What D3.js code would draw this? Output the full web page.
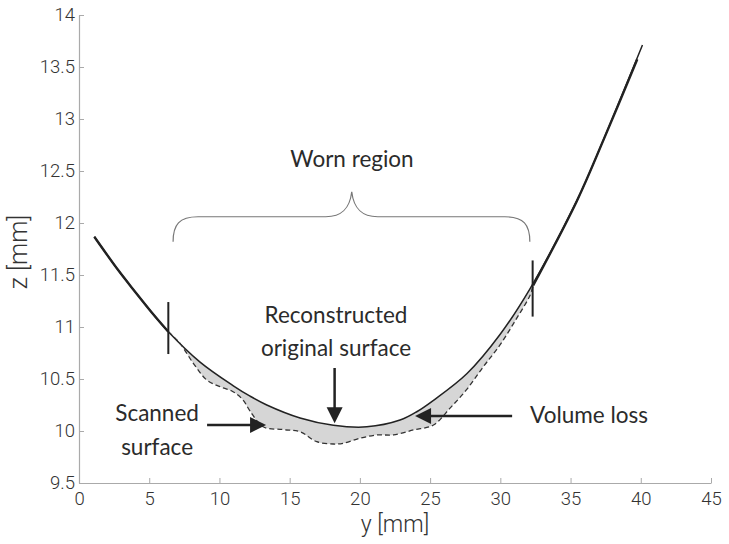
<!DOCTYPE html>
<html>
<head>
<meta charset="utf-8">
<script src="https://cdn.jsdelivr.net/npm/d3@7"></script>
<style>
  html, body { margin: 0; padding: 0; background: #fff; }
  svg { display: block; }
</style>
</head>
<body>
<svg id="chart" width="729" height="544"></svg>
<script>
// ---- Data ----
const xTicks = [0, 5, 10, 15, 20, 25, 30, 35, 40, 45];
const yTicks = [9.5, 10, 10.5, 11, 11.5, 12, 12.5, 13, 13.5, 14];
const xTickLabels = ["0", "5", "10", "15", "20", "25", "30", "35", "40", "45"];
const yTickLabels = ["9.5", "10", "10.5", "11", "11.5", "12", "12.5", "13", "13.5", "14"];

// Reconstructed original surface [y, z]
const originalY = [1.09, 2.80, 3.99, 5.18, 6.36, 8.62, 10.99, 12.18, 13.37, 15.74, 18.11, 20.49, 22.86, 24.05, 25.24, 27.61, 29.99, 32.12, 35.45, 37.34, 40.12];
const originalZ = [11.868, 11.545, 11.34, 11.14, 10.955, 10.663, 10.435, 10.335, 10.25, 10.125, 10.055, 10.04, 10.105, 10.185, 10.295, 10.55, 10.93, 11.37, 12.215, 12.80, 13.712];

// Scanned surface inside worn region [y, z]
const scannedY = [6.36, 7.19, 8.14, 9.10, 10.04, 10.97, 11.68, 12.18, 13.11, 14.53, 15.74, 16.93, 18.11, 18.82, 20.01, 21.20, 22.39, 23.81, 25.24, 26.42, 27.61, 28.80, 29.99, 31.17, 32.12, 32.34];
const scannedZ = [10.955, 10.843, 10.651, 10.490, 10.426, 10.378, 10.298, 10.192, 10.041, 10.014, 9.993, 9.897, 9.875, 9.882, 9.930, 9.962, 9.962, 10.010, 10.058, 10.22, 10.40, 10.62, 10.83, 11.085, 11.305, 11.40];

// Scanned surface outside worn region (coincides with original)
const scannedLeftY = [1.09, 2.80, 3.99, 5.18, 6.36];
const scannedLeftZ = [11.868, 11.545, 11.34, 11.14, 10.955];
const scannedRightY = [32.34, 35.45, 37.34, 39.75];
const scannedRightZ = [11.40, 12.212, 12.797, 13.575];

// Worn region limits
const wornLimits = [6.36, 32.3];
const wornLimitZLow = [10.74, 11.10];
const wornLimitZHigh = [11.24, 11.64];

// ---- Layout ----
const svg = d3.select("#chart");
const x = d3.scaleLinear().domain([0, 45]).range([79, 711]);
const y = d3.scaleLinear().domain([9.5, 14]).range([483, 15]);

const zip = (a, b) => a.map((v, i) => [v, b[i]]);
const original = zip(originalY, originalZ);
const scanned = zip(scannedY, scannedZ);
const scannedLeft = zip(scannedLeftY, scannedLeftZ);
const scannedRight = zip(scannedRightY, scannedRightZ);

const line = d3.line().x(d => x(d[0])).y(d => y(d[1])).curve(d3.curveCatmullRom.alpha(0.5));

// Axes
const tickFont = "Roboto, 'DejaVu Sans', sans-serif";
const xAxis = d3.axisBottom(x).tickValues(xTicks).tickFormat((d, i) => xTickLabels[i])
  .tickSizeInner(-5).tickSizeOuter(0).tickPadding(9);
const yAxis = d3.axisLeft(y).tickValues(yTicks).tickFormat((d, i) => yTickLabels[i])
  .tickSizeInner(-5).tickSizeOuter(0).tickPadding(4);

const gx = svg.append("g").attr("transform", `translate(0,${y(9.5)})`).call(xAxis);
const gy = svg.append("g").attr("transform", `translate(${x(0)},0)`).call(yAxis);
[gx, gy].forEach(g => {
  g.select(".domain").attr("stroke", "#aaa").attr("stroke-width", 1.2);
  g.selectAll(".tick line").attr("stroke", "#aaa").attr("stroke-width", 1);
  g.selectAll(".tick text").attr("fill", "#333").attr("font-size", 18.5)
    .attr("font-family", tickFont).attr("font-weight", 300);
});

// Axis titles
svg.append("text").attr("x", 395).attr("y", 532).attr("text-anchor", "middle")
  .attr("font-family", tickFont).attr("font-weight", 300).attr("font-size", 23).attr("fill", "#333")
  .text("y [mm]");
svg.append("text").attr("transform", "translate(27,252) rotate(-90)").attr("text-anchor", "middle")
  .attr("font-family", tickFont).attr("font-weight", 300).attr("font-size", 25).attr("fill", "#333")
  .text("z [mm]");

// Volume loss fill: bounded by original (forward) and scanned (backward)
const origWorn = original.filter(d => d[0] >= wornLimits[0] - 0.01 && d[0] <= 32.2);
origWorn.push([32.34, 11.40]);
const upper = line(origWorn);
const lower = line(scanned.slice().reverse()).replace(/^M/, "L");
svg.append("path").attr("d", upper + lower + "Z")
  .attr("fill", "#d6d6d6").attr("stroke", "none");

// Original surface
svg.append("path").attr("d", line(original)).attr("fill", "none")
  .attr("stroke", "#222").attr("stroke-width", 1.5);

// Scanned surface
svg.append("path").attr("d", line(scanned)).attr("fill", "none")
  .attr("stroke", "#333").attr("stroke-width", 1.3).attr("stroke-dasharray", "5,3");
[scannedLeft, scannedRight].forEach(s => {
  svg.append("path").attr("d", line(s)).attr("fill", "none")
    .attr("stroke", "#222").attr("stroke-width", 2.4);
});

// Worn region limit marks
wornLimits.forEach((v, i) => {
  svg.append("line").attr("x1", x(v)).attr("x2", x(v))
    .attr("y1", y(wornLimitZLow[i])).attr("y2", y(wornLimitZHigh[i]))
    .attr("stroke", "#222").attr("stroke-width", 2);
});

// Brace
(function () {
  const l = x(6.7), r = x(32.1), c = x(19.42);
  const tip = y(11.82), top = y(12.06), peak = y(12.30);
  const p = d3.path();
  p.moveTo(l, tip);
  p.bezierCurveTo(l, top + 8, l + 6, top, l + 25, top);
  p.lineTo(c - 26, top);
  p.bezierCurveTo(c - 10, top, c - 2, top - 8, c, peak);
  p.bezierCurveTo(c + 2, top - 8, c + 10, top, c + 26, top);
  p.lineTo(r - 25, top);
  p.bezierCurveTo(r - 6, top, r, top + 8, r, tip);
  svg.append("path").attr("d", p.toString()).attr("fill", "none")
    .attr("stroke", "#777").attr("stroke-width", 1.2);
})();

// Arrows
function arrow(x1, y1, x2, y2) {
  const dx = x2 - x1, dy = y2 - y1, len = Math.hypot(dx, dy);
  const ux = dx / len, uy = dy / len, hl = 16, hw = 8;
  const bx = x2 - ux * hl, by = y2 - uy * hl;
  svg.append("line").attr("x1", x1).attr("y1", y1).attr("x2", bx + ux * 2).attr("y2", by + uy * 2)
    .attr("stroke", "#222").attr("stroke-width", 2.5);
  svg.append("path").attr("d", `M${x2},${y2}L${bx - uy * hw},${by + ux * hw}L${bx + uy * hw},${by - ux * hw}Z`)
    .attr("fill", "#222");
}
arrow(x(18.2), y(10.606), x(18.2), y(10.074));
arrow(x(9.12), y(10.058), x(13.32), y(10.058));
arrow(x(30.84), y(10.144), x(23.93), y(10.144));

// Annotation texts
const annFont = "Lato, 'Open Sans', sans-serif";
function ann(txt, xv, zv, anchor) {
  svg.append("text").attr("x", x(xv)).attr("y", y(zv)).attr("text-anchor", anchor)
    .attr("font-family", annFont).attr("font-size", 22.5).attr("fill", "#2b2b2b").text(txt);
}
ann("Worn region", 19.44, 12.538, "middle");
ann("Reconstructed", 18.30, 11.04, "middle");
ann("original surface", 18.30, 10.72, "middle");
ann("Scanned", 5.56, 10.096, "middle");
ann("surface", 5.56, 9.77, "middle");
ann("Volume loss", 32.12, 10.077, "start");
</script>
</body>
</html>
